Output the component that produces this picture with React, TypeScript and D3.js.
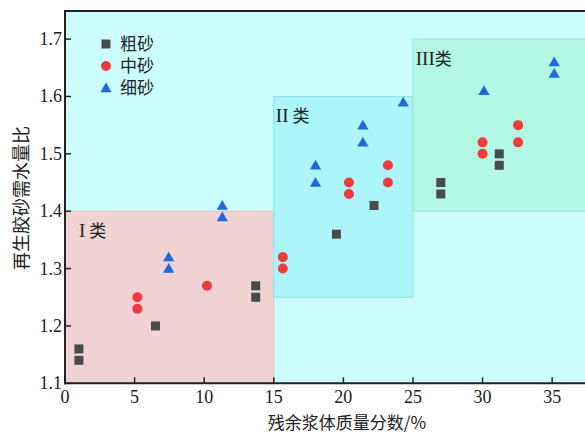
import React from "react";
import * as d3 from "d3";

const coarseX = [1.0, 1.0, 6.5, 13.7, 13.7, 19.5, 22.2, 27.0, 27.0, 31.2, 31.2];
const coarseY = [1.16, 1.14, 1.20, 1.27, 1.25, 1.36, 1.41, 1.45, 1.43, 1.50, 1.48];
const mediumX = [5.2, 5.2, 10.2, 15.65, 15.65, 20.4, 20.4, 23.2, 23.2, 30.0, 30.0, 32.55, 32.55];
const mediumY = [1.25, 1.23, 1.27, 1.32, 1.30, 1.45, 1.43, 1.48, 1.45, 1.52, 1.50, 1.55, 1.52];
const fineX = [7.45, 7.45, 11.3, 11.3, 18.0, 18.0, 21.4, 21.4, 24.3, 30.1, 35.15, 35.15];
const fineY = [1.32, 1.30, 1.41, 1.39, 1.48, 1.45, 1.55, 1.52, 1.59, 1.61, 1.66, 1.64];

const xTicks = [0, 5, 10, 15, 20, 25, 30, 35];
const yTicks = [1.1, 1.2, 1.3, 1.4, 1.5, 1.6, 1.7];

const regionNames = ["I", "II", "III"];
const regionX0 = [0, 15, 25];
const regionX1 = [15, 25, 40];
const regionY0 = [1.1, 1.25, 1.4];
const regionY1 = [1.4, 1.6, 1.7];

const seriesNames = ["粗砂", "中砂", "细砂"];

const serif = "'Liberation Serif', 'DejaVu Serif', serif";
const cjk = "'Noto Sans CJK SC', sans-serif";

export default function App() {
  const W = 585, H = 434;
  const left = 65, right = 585, top = 11, bottom = 383.3;
  const x = d3.scaleLinear().domain([0, 37.36]).range([left, right]);
  const y = d3.scaleLinear().domain([1.1, 1.749]).range([bottom, top]);

  const regionFill = ["#f1d2d5", "#acf6fb", "#b3f8e5"];
  const regionStroke = ["#e6bfc3", "#8ce3ec", "#8ce9d8"];
  const labelPos = [
    { x: 1.0, y: 1.355 },
    { x: 15.15, y: 1.555 },
    { x: 25.2, y: 1.655 },
  ];

  const sq = 9;
  const tri = d3.symbol().type(d3.symbolTriangle).size(55)();

  const square = (cx: number, cy: number, k: string) => (
    <rect key={k} x={cx - sq / 2} y={cy - sq / 2} width={sq} height={sq} fill="#4a4a4a" />
  );
  const circle = (cx: number, cy: number, k: string) => (
    <circle key={k} cx={cx} cy={cy} r={5} fill="#ee3b3b" />
  );
  const triangle = (cx: number, cy: number, k: string) => (
    <path key={k} d={tri || ""} transform={`translate(${cx},${cy + 1})`} fill="#1d6ad8" />
  );

  return (
    <svg width={W} height={H} style={{ position: "absolute", left: 0, top: 0, background: "#fff" }}>
      <defs>
        <clipPath id="plot">
          <rect x={left} y={top} width={right - left} height={bottom - top} />
        </clipPath>
      </defs>
      <rect x={left} y={top} width={right - left} height={bottom - top} fill="#cdfefe" />
      <g clipPath="url(#plot)">
        {regionNames.map((n, i) => (
          <rect
            key={n}
            x={x(regionX0[i])}
            y={y(regionY1[i])}
            width={x(regionX1[i]) - x(regionX0[i])}
            height={y(regionY0[i]) - y(regionY1[i])}
            fill={regionFill[i]}
            stroke={regionStroke[i]}
            strokeWidth={1}
          />
        ))}
      </g>
      {regionNames.map((n, i) => (
        <text key={"l" + n} x={x(labelPos[i].x)} y={y(labelPos[i].y)} fontSize={18} fill="#222">
          <tspan fontFamily={serif} fontSize={19}>{n}</tspan>
          <tspan fontFamily={cjk} fontSize={17} dx={i === 2 ? 0 : 4}>类</tspan>
        </text>
      ))}
      {coarseX.map((v, i) => square(x(v), y(coarseY[i]), "c" + i))}
      {mediumX.map((v, i) => circle(x(v), y(mediumY[i]), "m" + i))}
      {fineX.map((v, i) => triangle(x(v), y(fineY[i]), "f" + i))}

      {/* legend */}
      {square(106, 44, "lg0")}
      {circle(106, 66, "lg1")}
      {triangle(106, 88, "lg2")}
      {seriesNames.map((s, i) => (
        <text key={s} x={120} y={44 + i * 22 + 6} fontFamily={cjk} fontSize={17} fill="#222">
          {s}
        </text>
      ))}

      {/* axes */}
      <line x1={left} x2={right} y1={top} y2={top} stroke="#222" strokeWidth={2} />
      <line x1={left} x2={left} y1={top - 1} y2={bottom + 1} stroke="#222" strokeWidth={2} />
      <line x1={left - 1} x2={right} y1={bottom} y2={bottom} stroke="#222" strokeWidth={2} />
      {xTicks.map((t) => (
        <g key={"x" + t}>
          <line x1={x(t)} x2={x(t)} y1={bottom} y2={bottom - 6} stroke="#222" strokeWidth={1.5} />
          <text x={x(t)} y={bottom + 20} textAnchor="middle" fontFamily={serif} fontSize={18} fill="#222">
            {t}
          </text>
        </g>
      ))}
      {yTicks.map((t) => (
        <g key={"y" + t}>
          <line x1={left} x2={left + 6} y1={y(t)} y2={y(t)} stroke="#222" strokeWidth={1.5} />
          <text x={left - 3} y={y(t) + 6} textAnchor="end" fontFamily={serif} fontSize={18} fill="#222">
            {t.toFixed(1)}
          </text>
        </g>
      ))}
      <text x={347} y={429} textAnchor="middle" fontFamily={cjk} fontSize={17} fill="#222">
        残余浆体质量分数/%
      </text>
      <text
        transform={`translate(28,198) rotate(-90)`}
        textAnchor="middle"
        fontFamily={cjk}
        fontSize={18}
        fill="#222"
      >
        再生胶砂需水量比
      </text>
    </svg>
  );
}
